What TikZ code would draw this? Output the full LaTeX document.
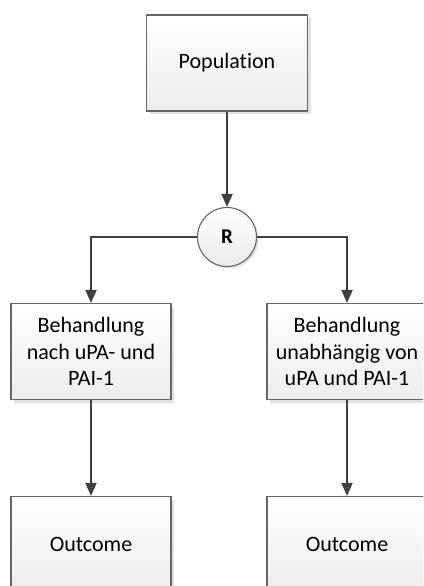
\documentclass[tikz,border=0pt]{standalone}
\usepackage{fontspec}
\setmainfont{Carlito}[Ligatures={NoCommon}]
\usetikzlibrary{arrows.meta,shadows}
\definecolor{linec}{HTML}{404040}
\definecolor{borderc}{HTML}{666666}
\definecolor{shadowc}{HTML}{E2E2E2}
\tikzset{
  box/.style={draw=borderc, line width=1.1bp, top color=white, bottom color=black!7,
    minimum width=160bp, minimum height=96bp, inner sep=0pt, align=center,
    font=\fontsize{22bp}{26.8bp}\selectfont,
    drop shadow={shadow xshift=3bp, shadow yshift=-3bp, fill=shadowc, opacity=1}},
  rnode/.style={circle, draw=borderc, line width=1.1bp, top color=white, bottom color=black!8,
    minimum size=59bp, inner sep=0pt, font=\fontsize{21bp}{24bp}\selectfont\bfseries,
    drop shadow={shadow xshift=2bp, shadow yshift=-2bp, fill=shadowc, opacity=1}},
  conn/.style={draw=linec, line width=1.8bp, -{Triangle[width=11bp,length=13bp]}}
}
\begin{document}
\begin{tikzpicture}[x=1bp,y=-1bp]
\useasboundingbox (0,0) rectangle (423,586);
\clip (0,0) rectangle (423,586);
\node[box, minimum width=161bp] (pop) at (227,63) {Population};
\node[rnode] (r) at (227,237) {R};
\node[box] (left) at (91,351.5) {Behandlung\\nach uPA- und\\PAI-1};
\node[box] (right) at (347,351.5) {Behandlung\\unabhängig von\\uPA und PAI-1};
\node[box] (outl) at (91,544.5) {Outcome};
\node[box] (outr) at (347,544.5) {Outcome};
\draw[conn] (pop) -- (r);
\draw[conn] (r.west) -| (left.north);
\draw[conn] (r.east) -| (right.north);
\draw[conn] (left) -- (outl);
\draw[conn] (right) -- (outr);
\end{tikzpicture}
\end{document}
